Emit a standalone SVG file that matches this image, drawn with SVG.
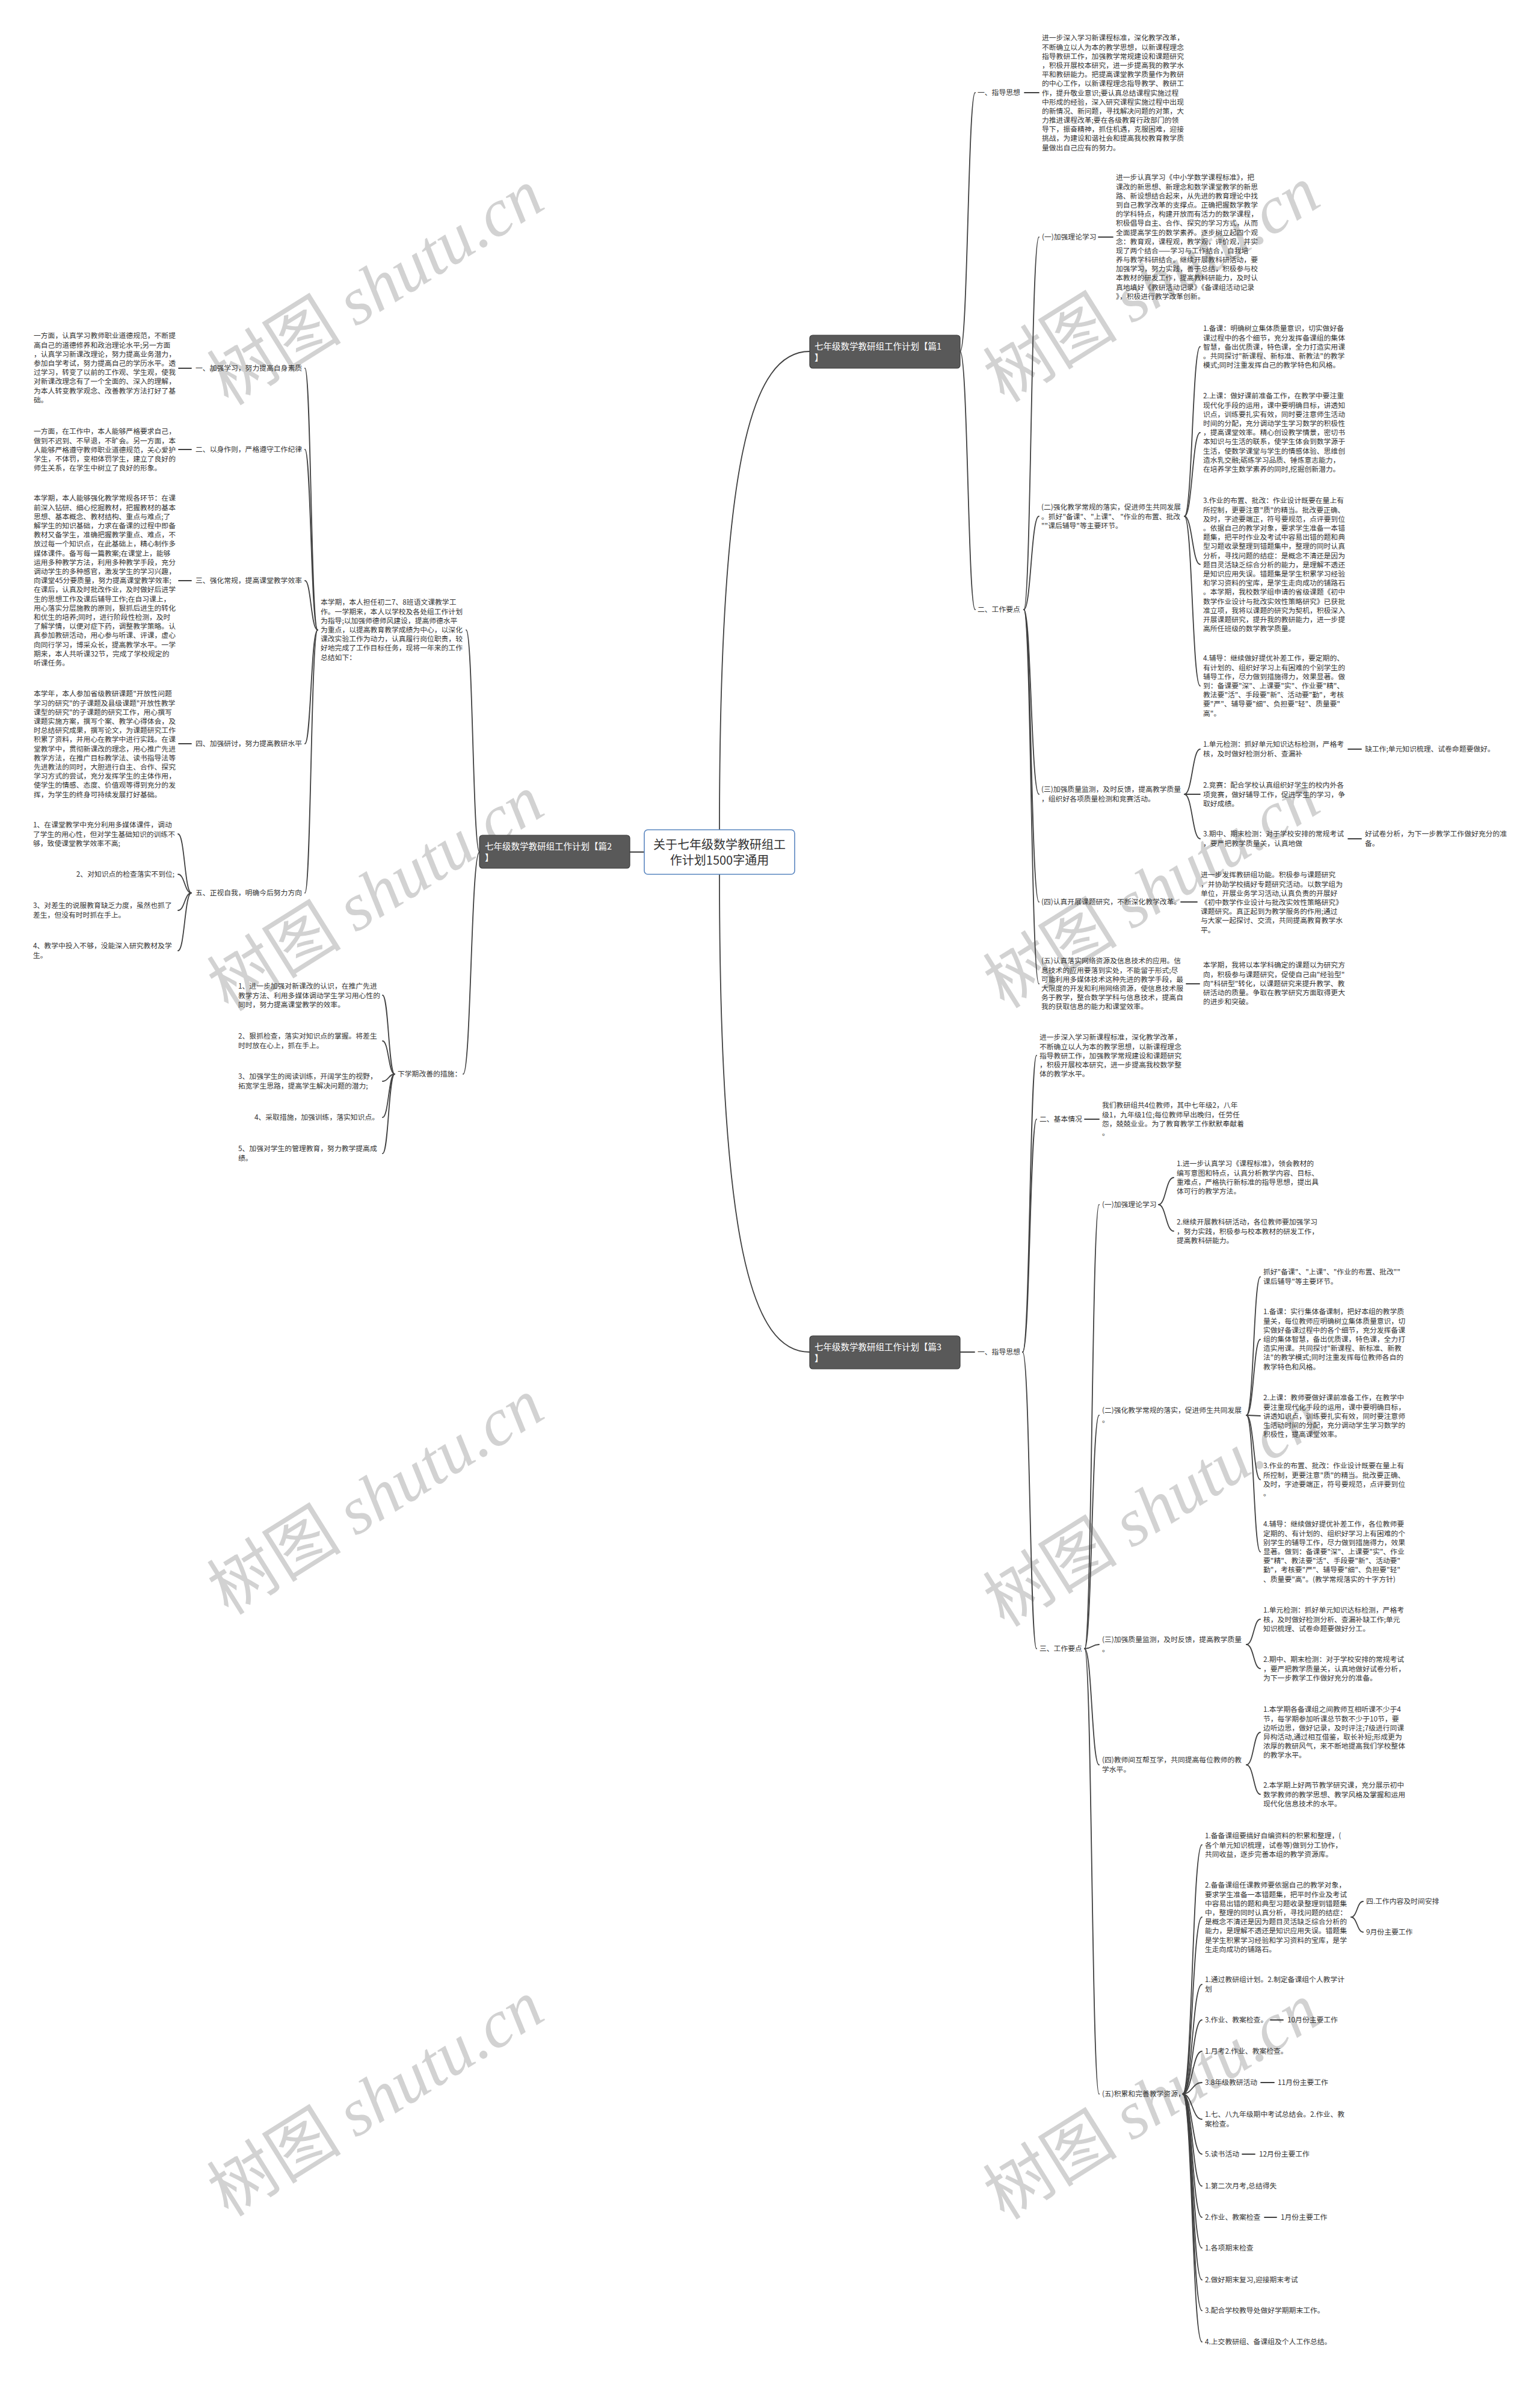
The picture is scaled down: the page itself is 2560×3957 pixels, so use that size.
<svg xmlns="http://www.w3.org/2000/svg" width="2560" height="3957" viewBox="0 0 2560 3957">
<style>
.t{font-family:"Noto Sans CJK SC","Microsoft YaHei",sans-serif;font-size:11.8px;fill:#333}
.e{text-anchor:end}
.c{fill:none;stroke:#404040;stroke-width:1.8;stroke-linecap:round}
.wm{font-family:"Noto Sans CJK SC",sans-serif;font-size:112px;fill:#d2d2d2;text-anchor:middle}
.wm tspan{font-family:"Liberation Serif",serif;font-style:italic}
.topic{fill:#595959;stroke:#3c3c3c;stroke-width:1.2}
.tt{font-family:"Noto Sans CJK SC","Microsoft YaHei",sans-serif;font-size:14.5px;fill:#fff}
</style>
<rect width="2560" height="3957" fill="#fff"/>
<g id="watermarks">
<text class="wm" transform="translate(645 510) rotate(-32)">树图 <tspan>shutu.cn</tspan></text>
<text class="wm" transform="translate(1935 505) rotate(-32)">树图 <tspan>shutu.cn</tspan></text>
<text class="wm" transform="translate(645 1517) rotate(-32)">树图 <tspan>shutu.cn</tspan></text>
<text class="wm" transform="translate(1935 1512) rotate(-32)">树图 <tspan>shutu.cn</tspan></text>
<text class="wm" transform="translate(645 2520) rotate(-32)">树图 <tspan>shutu.cn</tspan></text>
<text class="wm" transform="translate(1935 2540) rotate(-32)">树图 <tspan>shutu.cn</tspan></text>
<text class="wm" transform="translate(645 3520) rotate(-32)">树图 <tspan>shutu.cn</tspan></text>
<text class="wm" transform="translate(1935 3525) rotate(-32)">树图 <tspan>shutu.cn</tspan></text>
</g>
<g id="connectors">
<path class="c" d="M1196 1379 C1196 760 1250 584 1346 584"/>
<path class="c" d="M1196 1453 C1196 2070 1250 2247 1346 2247"/>
<path class="c" d="M1071 1416 L1047 1416"/>
<path class="c" d="M1596 584 C1609 584 1609 154 1621 154"/>
<path class="c" d="M1596 584 C1609 584 1609 1013 1621 1013"/>
<path class="c" d="M1703 154 L1727 154"/>
<path class="c" d="M1702 1013 C1714 1013 1714 394 1727 394"/>
<path class="c" d="M1702 1013 C1714 1013 1714 858 1727 858"/>
<path class="c" d="M1702 1013 C1714 1013 1714 1320 1727 1320"/>
<path class="c" d="M1702 1013 C1714 1013 1714 1499 1727 1499"/>
<path class="c" d="M1702 1013 C1714 1013 1714 1635 1727 1635"/>
<path class="c" d="M1826 394 L1850 394"/>
<path class="c" d="M1969 858 C1982 858 1982 576 1995 576"/>
<path class="c" d="M1969 858 C1982 858 1982 719 1995 719"/>
<path class="c" d="M1969 858 C1982 858 1982 938 1995 938"/>
<path class="c" d="M1969 858 C1982 858 1982 1140 1995 1140"/>
<path class="c" d="M1969 1320 C1982 1320 1982 1245 1995 1245"/>
<path class="c" d="M1969 1320 C1982 1320 1982 1320 1995 1320"/>
<path class="c" d="M1969 1320 C1982 1320 1982 1394 1995 1394"/>
<path class="c" d="M2241 1245 L2263 1245"/>
<path class="c" d="M2241 1394 L2263 1394"/>
<path class="c" d="M1963 1499 L1990 1499"/>
<path class="c" d="M1972 1635 L1994 1635"/>
<path class="c" d="M1596 2247 L1620 2247"/>
<path class="c" d="M1700 2247 C1712 2247 1712 1754 1723 1754"/>
<path class="c" d="M1700 2247 C1712 2247 1712 1860 1723 1860"/>
<path class="c" d="M1700 2247 C1712 2247 1712 2740 1723 2740"/>
<path class="c" d="M1803 1860 L1827 1860"/>
<path class="c" d="M1803 2740 C1815 2740 1815 2002 1827 2002"/>
<path class="c" d="M1803 2740 C1815 2740 1815 2352 1827 2352"/>
<path class="c" d="M1803 2740 C1815 2740 1815 2733 1827 2733"/>
<path class="c" d="M1803 2740 C1815 2740 1815 2933 1827 2933"/>
<path class="c" d="M1803 2740 C1815 2740 1815 3480 1827 3480"/>
<path class="c" d="M1926 2002 C1938 2002 1938 1957 1951 1957"/>
<path class="c" d="M1926 2002 C1938 2002 1938 2046 1951 2046"/>
<path class="c" d="M2072 2352 C2084 2352 2084 2122 2095 2122"/>
<path class="c" d="M2072 2352 C2084 2352 2084 2226 2095 2226"/>
<path class="c" d="M2072 2352 C2084 2352 2084 2353 2095 2353"/>
<path class="c" d="M2072 2352 C2084 2352 2084 2459 2095 2459"/>
<path class="c" d="M2072 2352 C2084 2352 2084 2579 2095 2579"/>
<path class="c" d="M2072 2733 C2084 2733 2084 2691 2095 2691"/>
<path class="c" d="M2072 2733 C2084 2733 2084 2773 2095 2773"/>
<path class="c" d="M2072 2933 C2084 2933 2084 2879 2095 2879"/>
<path class="c" d="M2072 2933 C2084 2933 2084 2982 2095 2982"/>
<path class="c" d="M1966 3480 C1982 3480 1982 3066 1998 3066"/>
<path class="c" d="M1966 3480 C1982 3480 1982 3186 1998 3186"/>
<path class="c" d="M1966 3480 C1982 3480 1982 3298 1998 3298"/>
<path class="c" d="M1966 3480 C1982 3480 1982 3357 1998 3357"/>
<path class="c" d="M1966 3480 C1982 3480 1982 3409 1998 3409"/>
<path class="c" d="M1966 3480 C1982 3480 1982 3461 1998 3461"/>
<path class="c" d="M1966 3480 C1982 3480 1982 3522 1998 3522"/>
<path class="c" d="M1966 3480 C1982 3480 1982 3580 1998 3580"/>
<path class="c" d="M1966 3480 C1982 3480 1982 3633 1998 3633"/>
<path class="c" d="M1966 3480 C1982 3480 1982 3685 1998 3685"/>
<path class="c" d="M1966 3480 C1982 3480 1982 3736 1998 3736"/>
<path class="c" d="M1966 3480 C1982 3480 1982 3789 1998 3789"/>
<path class="c" d="M1966 3480 C1982 3480 1982 3840 1998 3840"/>
<path class="c" d="M1966 3480 C1982 3480 1982 3892 1998 3892"/>
<path class="c" d="M2246 3186 C2256 3186 2256 3160 2266 3160"/>
<path class="c" d="M2246 3186 C2256 3186 2256 3211 2266 3211"/>
<path class="c" d="M2112 3357 L2133 3357"/>
<path class="c" d="M2096 3461 L2118 3461"/>
<path class="c" d="M2065 3580 L2086 3580"/>
<path class="c" d="M2102 3685 L2122 3685"/>
<path class="c" d="M797 1416 C786 1416 786 1047 775 1047"/>
<path class="c" d="M797 1416 C783 1416 783 1785 770 1785"/>
<path class="c" d="M528 1047 C517 1047 517 612 507 612"/>
<path class="c" d="M528 1047 C517 1047 517 747 507 747"/>
<path class="c" d="M528 1047 C517 1047 517 965 507 965"/>
<path class="c" d="M528 1047 C517 1047 517 1236 507 1236"/>
<path class="c" d="M528 1047 C517 1047 517 1484 507 1484"/>
<path class="c" d="M318 612 L297 612"/>
<path class="c" d="M318 747 L297 747"/>
<path class="c" d="M318 965 L297 965"/>
<path class="c" d="M318 1236 L297 1236"/>
<path class="c" d="M318 1484 C307 1484 307 1386 296 1386"/>
<path class="c" d="M318 1484 C307 1484 307 1453 296 1453"/>
<path class="c" d="M318 1484 C307 1484 307 1513 296 1513"/>
<path class="c" d="M318 1484 C307 1484 307 1580 296 1580"/>
<path class="c" d="M656 1785 C646 1785 646 1654 636 1654"/>
<path class="c" d="M656 1785 C646 1785 646 1730 636 1730"/>
<path class="c" d="M656 1785 C646 1785 646 1797 636 1797"/>
<path class="c" d="M656 1785 C646 1785 646 1857 636 1857"/>
<path class="c" d="M656 1785 C646 1785 646 1917 636 1917"/>
</g>
<g id="root">
<rect x="1071" y="1379" width="250" height="74" rx="6" fill="#fff" stroke="#5a86c0" stroke-width="1.6"/>
<text font-family="'Noto Sans CJK SC','Microsoft YaHei',sans-serif" font-size="20" fill="#333" text-anchor="middle"><tspan x="1196" y="1411">关于七年级数学教研组工</tspan><tspan x="1196" y="1437">作计划1500字通用</tspan></text>
</g>
<g id="p1">
<rect class="topic" x="1346" y="557" width="250" height="55" rx="5"/>
<text class="tt"><tspan x="1354" y="581">七年级数学教研组工作计划【篇1</tspan><tspan x="1354" y="600">】</tspan></text>
</g>
<g id="p2">
<rect class="topic" x="797" y="1388" width="250" height="55" rx="5"/>
<text class="tt"><tspan x="806" y="1412">七年级数学教研组工作计划【篇2</tspan><tspan x="806" y="1431">】</tspan></text>
</g>
<g id="p3">
<rect class="topic" x="1346" y="2220" width="250" height="55" rx="5"/>
<text class="tt"><tspan x="1354" y="2244">七年级数学教研组工作计划【篇3</tspan><tspan x="1354" y="2263">】</tspan></text>
</g>
<g id="p1-a1"><text class="t" x="1625" y="158.3">一、指导思想</text></g>
<g id="p1-a1t"><text class="t"><tspan x="1732" y="67.3">进一步深入学习新课程标准，深化教学改革，</tspan><tspan x="1732" dy="15.2">不断确立以人为本的教学思想，以新课程理念</tspan><tspan x="1732" dy="15.2">指导教研工作，加强教学常规建设和课题研究</tspan><tspan x="1732" dy="15.2">，积极开展校本研究，进一步提高我的教学水</tspan><tspan x="1732" dy="15.2">平和教研能力。把提高课堂教学质量作为教研</tspan><tspan x="1732" dy="15.2">的中心工作，以新课程理念指导教学、教研工</tspan><tspan x="1732" dy="15.2">作，提升敬业意识;要认真总结课程实施过程</tspan><tspan x="1732" dy="15.2">中形成的经验，深入研究课程实施过程中出现</tspan><tspan x="1732" dy="15.2">的新情况、新问题，寻找解决问题的对策，大</tspan><tspan x="1732" dy="15.2">力推进课程改革;要在各级教育行政部门的领</tspan><tspan x="1732" dy="15.2">导下，振奋精神，抓住机遇，克服困难，迎接</tspan><tspan x="1732" dy="15.2">挑战，为建设和谐社会和提高我校教育教学质</tspan><tspan x="1732" dy="15.2">量做出自己应有的努力。</tspan></text></g>
<g id="p1-a2"><text class="t" x="1625" y="1017.3">二、工作要点</text></g>
<g id="p1-b1"><text class="t" x="1732" y="398.3">(一)加强理论学习</text></g>
<g id="p1-b1t"><text class="t"><tspan x="1855" y="299.3">进一步认真学习《中小学数学课程标准》，把</tspan><tspan x="1855" dy="15.2">课改的新思想、新理念和数学课堂教学的新思</tspan><tspan x="1855" dy="15.2">路、新设想结合起来，从先进的教育理论中找</tspan><tspan x="1855" dy="15.2">到自己教学改革的支撑点。正确把握数学教学</tspan><tspan x="1855" dy="15.2">的学科特点，构建开放而有活力的数学课程，</tspan><tspan x="1855" dy="15.2">积极倡导自主、合作、探究的学习方式，从而</tspan><tspan x="1855" dy="15.2">全面提高学生的数学素养。逐步树立起四个观</tspan><tspan x="1855" dy="15.2">念：教育观，课程观，教学观，评价观，并实</tspan><tspan x="1855" dy="15.2">现了两个结合——学习与工作结合，自我培</tspan><tspan x="1855" dy="15.2">养与教学科研结合。继续开展教科研活动，要</tspan><tspan x="1855" dy="15.2">加强学习，努力实践，善于总结，积极参与校</tspan><tspan x="1855" dy="15.2">本教材的研发工作，提高教科研能力，及时认</tspan><tspan x="1855" dy="15.2">真地填好《教研活动记录》《备课组活动记录</tspan><tspan x="1855" dy="15.2">》，积极进行教学改革创新。</tspan></text></g>
<g id="p1-b2"><text class="t"><tspan x="1731" y="847.3">(二)强化教学常规的落实，促进师生共同发展</tspan><tspan x="1731" dy="15.2">。抓好"备课"、"上课"、 "作业的布置、批改</tspan><tspan x="1731" dy="15.2">""课后辅导"等主要环节。</tspan></text></g>
<g id="p1-c1"><text class="t"><tspan x="2000" y="550.3">1.备课：明确树立集体质量意识，切实做好备</tspan><tspan x="2000" dy="15.2">课过程中的各个细节，充分发挥备课组的集体</tspan><tspan x="2000" dy="15.2">智慧，备出优质课，特色课，全力打造实用课</tspan><tspan x="2000" dy="15.2">。共同探讨"新课程、新标准、新教法"的教学</tspan><tspan x="2000" dy="15.2">模式;同时注重发挥自己的教学特色和风格。</tspan></text></g>
<g id="p1-c2"><text class="t"><tspan x="2000" y="662.3">2.上课：做好课前准备工作，在教学中要注重</tspan><tspan x="2000" dy="15.2">现代化手段的运用，课中要明确目标，讲透知</tspan><tspan x="2000" dy="15.2">识点，训练要扎实有效，同时要注意师生活动</tspan><tspan x="2000" dy="15.2">时间的分配，充分调动学生学习数学的积极性</tspan><tspan x="2000" dy="15.2">，提高课堂效率。精心创设教学情景，密切书</tspan><tspan x="2000" dy="15.2">本知识与生活的联系，使学生体会到数学源于</tspan><tspan x="2000" dy="15.2">生活，使数学课堂与学生的情感体验、思维创</tspan><tspan x="2000" dy="15.2">造水乳交融;砺练学习品质、锤炼意志能力，</tspan><tspan x="2000" dy="15.2">在培养学生数学素养的同时,挖掘创新潜力。</tspan></text></g>
<g id="p1-c3"><text class="t"><tspan x="2000" y="836.3">3.作业的布置、批改：作业设计既要在量上有</tspan><tspan x="2000" dy="15.2">所控制，更要注意"质"的精当。批改要正确、</tspan><tspan x="2000" dy="15.2">及时，字迹要端正，符号要规范，点评要到位</tspan><tspan x="2000" dy="15.2">。依据自己的教学对象，要求学生准备一本错</tspan><tspan x="2000" dy="15.2">题集，把平时作业及考试中容易出错的题和典</tspan><tspan x="2000" dy="15.2">型习题收录整理到错题集中，整理的同时认真</tspan><tspan x="2000" dy="15.2">分析，寻找问题的结症：是概念不清还是因为</tspan><tspan x="2000" dy="15.2">题目灵活缺乏综合分析的能力，是理解不透还</tspan><tspan x="2000" dy="15.2">是知识应用失误。错题集是学生积累学习经验</tspan><tspan x="2000" dy="15.2">和学习资料的宝库，是学生走向成功的铺路石</tspan><tspan x="2000" dy="15.2">。本学期，我校数学组申请的省级课题《初中</tspan><tspan x="2000" dy="15.2">数学作业设计与批改实效性策略研究》已获批</tspan><tspan x="2000" dy="15.2">准立项，我将以课题的研究为契机，积极深入</tspan><tspan x="2000" dy="15.2">开展课题研究，提升我的教研能力，进一步提</tspan><tspan x="2000" dy="15.2">高所任班级的数学教学质量。</tspan></text></g>
<g id="p1-c4"><text class="t"><tspan x="2000" y="1098.3">4.辅导：继续做好提优补差工作，要定期的、</tspan><tspan x="2000" dy="15.2">有计划的、组织好学习上有困难的个别学生的</tspan><tspan x="2000" dy="15.2">辅导工作，尽力做到措施得力，效果显著。做</tspan><tspan x="2000" dy="15.2">到：备课要"深"、上课要"实"、作业要"精"、</tspan><tspan x="2000" dy="15.2">教法要"活"、手段要"新"、活动要"勤"，考核</tspan><tspan x="2000" dy="15.2">要"严"、辅导要"细"、负担要"轻"、质量要"</tspan><tspan x="2000" dy="15.2">高"。</tspan></text></g>
<g id="p1-b3"><text class="t"><tspan x="1731" y="1316.3">(三)加强质量监测，及时反馈，提高教学质量</tspan><tspan x="1731" dy="15.2">，组织好各项质量检测和竞赛活动。</tspan></text></g>
<g id="p1-d1"><text class="t"><tspan x="2000" y="1241.3">1.单元检测：抓好单元知识达标检测，严格考</tspan><tspan x="2000" dy="15.2">核，及时做好检测分析、查漏补</tspan></text></g>
<g id="p1-d1c"><text class="t" x="2269" y="1249.3">缺工作;单元知识梳理、试卷命题要做好。</text></g>
<g id="p1-d2"><text class="t"><tspan x="2000" y="1309.3">2.竞赛：配合学校认真组织好学生的校内外各</tspan><tspan x="2000" dy="15.2">项竞赛，做好辅导工作，促进学生的学习，争</tspan><tspan x="2000" dy="15.2">取好成绩。</tspan></text></g>
<g id="p1-d3"><text class="t"><tspan x="2000" y="1390.3">3.期中、期末检测：对于学校安排的常规考试</tspan><tspan x="2000" dy="15.2">，要严把教学质量关，认真地做</tspan></text></g>
<g id="p1-d3c"><text class="t"><tspan x="2269" y="1390.3">好试卷分析，为下一步教学工作做好充分的准</tspan><tspan x="2269" dy="15.2">备。</tspan></text></g>
<g id="p1-b4"><text class="t" x="1731" y="1503.3">(四)认真开展课题研究，不断深化教学改革。</text></g>
<g id="p1-b4t"><text class="t"><tspan x="1996" y="1458.3">进一步发挥教研组功能。积极参与课题研究</tspan><tspan x="1996" dy="15.2">，并协助学校搞好专题研究活动。以数学组为</tspan><tspan x="1996" dy="15.2">单位，开展业务学习活动,认真负责的开展好</tspan><tspan x="1996" dy="15.2">《初中数学作业设计与批改实效性策略研究》</tspan><tspan x="1996" dy="15.2">课题研究。真正起到为教学服务的作用;通过</tspan><tspan x="1996" dy="15.2">与大家一起探讨、交流，共同提高教育教学水</tspan><tspan x="1996" dy="15.2">平。</tspan></text></g>
<g id="p1-b5"><text class="t"><tspan x="1731" y="1601.3">(五)认真落实网络资源及信息技术的应用。信</tspan><tspan x="1731" dy="15.2">息技术的应用要落到实处，不能留于形式;尽</tspan><tspan x="1731" dy="15.2">可能利用多媒体技术这种先进的教学手段，最</tspan><tspan x="1731" dy="15.2">大限度的开发和利用网络资源，使信息技术服</tspan><tspan x="1731" dy="15.2">务于教学，整合数学学科与信息技术，提高自</tspan><tspan x="1731" dy="15.2">我的获取信息的能力和课堂效率。</tspan></text></g>
<g id="p1-b5t"><text class="t"><tspan x="2000" y="1608.3">本学期，我将以本学科确定的课题以为研究方</tspan><tspan x="2000" dy="15.2">向，积极参与课题研究，促使自己由"经验型"</tspan><tspan x="2000" dy="15.2">向"科研型"转化，以课题研究来提升教学、教</tspan><tspan x="2000" dy="15.2">研活动的质量。争取在教学研究方面取得更大</tspan><tspan x="2000" dy="15.2">的进步和突破。</tspan></text></g>
<g id="p3-e"><text class="t" x="1625" y="2251.3">一、指导思想</text></g>
<g id="p3-e1t"><text class="t"><tspan x="1728" y="1728.3">进一步深入学习新课程标准，深化教学改革，</tspan><tspan x="1728" dy="15.2">不断确立以人为本的教学思想，以新课程理念</tspan><tspan x="1728" dy="15.2">指导教研工作，加强教学常规建设和课题研究</tspan><tspan x="1728" dy="15.2">，积极开展校本研究，进一步提高我校数学整</tspan><tspan x="1728" dy="15.2">体的教学水平。</tspan></text></g>
<g id="p3-e2"><text class="t" x="1728" y="1864.3">二、基本情况</text></g>
<g id="p3-e2t"><text class="t"><tspan x="1832" y="1841.3">我们教研组共4位教师，其中七年级2，八年</tspan><tspan x="1832" dy="15.2">级1，九年级1位;每位教师早出晚归，任劳任</tspan><tspan x="1832" dy="15.2">怨，兢兢业业。为了教育教学工作默默奉献着</tspan><tspan x="1832" dy="15.2">。</tspan></text></g>
<g id="p3-e3"><text class="t" x="1728" y="2744.3">三、工作要点</text></g>
<g id="p3-f1"><text class="t" x="1832" y="2006.3">(一)加强理论学习</text></g>
<g id="p3-f1a"><text class="t"><tspan x="1956" y="1938.3">1.进一步认真学习《课程标准》，领会教材的</tspan><tspan x="1956" dy="15.2">编写意图和特点，认真分析教学内容、目标、</tspan><tspan x="1956" dy="15.2">重难点，严格执行新标准的指导思想，提出具</tspan><tspan x="1956" dy="15.2">体可行的教学方法。</tspan></text></g>
<g id="p3-f1b"><text class="t"><tspan x="1956" y="2035.3">2.继续开展教科研活动，各位教师要加强学习</tspan><tspan x="1956" dy="15.2">，努力实践，积极参与校本教材的研发工作，</tspan><tspan x="1956" dy="15.2">提高教科研能力。</tspan></text></g>
<g id="p3-f2"><text class="t"><tspan x="1832" y="2348.3">(二)强化教学常规的落实，促进师生共同发展</tspan><tspan x="1832" dy="15.2">。</tspan></text></g>
<g id="p3-f2a"><text class="t"><tspan x="2100" y="2118.3">抓好"备课"、"上课"、"作业的布置、批改""</tspan><tspan x="2100" dy="15.2">课后辅导"等主要环节。</tspan></text></g>
<g id="p3-f2b"><text class="t"><tspan x="2100" y="2184.3">1.备课：实行集体备课制，把好本组的教学质</tspan><tspan x="2100" dy="15.2">量关，每位教师应明确树立集体质量意识，切</tspan><tspan x="2100" dy="15.2">实做好备课过程中的各个细节，充分发挥备课</tspan><tspan x="2100" dy="15.2">组的集体智慧，备出优质课，特色课，全力打</tspan><tspan x="2100" dy="15.2">造实用课。共同探讨"新课程、新标准、新教</tspan><tspan x="2100" dy="15.2">法"的教学模式;同时注重发挥每位教师各自的</tspan><tspan x="2100" dy="15.2">教学特色和风格。</tspan></text></g>
<g id="p3-f2c"><text class="t"><tspan x="2100" y="2327.3">2.上课：教师要做好课前准备工作，在教学中</tspan><tspan x="2100" dy="15.2">要注重现代化手段的运用，课中要明确目标，</tspan><tspan x="2100" dy="15.2">讲透知识点，训练要扎实有效，同时要注意师</tspan><tspan x="2100" dy="15.2">生活动时间的分配，充分调动学生学习数学的</tspan><tspan x="2100" dy="15.2">积极性，提高课堂效率。</tspan></text></g>
<g id="p3-f2d"><text class="t"><tspan x="2100" y="2440.3">3.作业的布置、批改：作业设计既要在量上有</tspan><tspan x="2100" dy="15.2">所控制，更要注意"质"的精当。批改要正确、</tspan><tspan x="2100" dy="15.2">及时，字迹要端正，符号要规范，点评要到位</tspan><tspan x="2100" dy="15.2">。</tspan></text></g>
<g id="p3-f2e"><text class="t"><tspan x="2100" y="2537.3">4.辅导：继续做好提优补差工作，各位教师要</tspan><tspan x="2100" dy="15.2">定期的、有计划的、组织好学习上有困难的个</tspan><tspan x="2100" dy="15.2">别学生的辅导工作，尽力做到措施得力，效果</tspan><tspan x="2100" dy="15.2">显著。做到：备课要"深"、上课要"实"、作业</tspan><tspan x="2100" dy="15.2">要"精"、教法要"活"、手段要"新"、活动要"</tspan><tspan x="2100" dy="15.2">勤"，考核要"严"、辅导要"细"、负担要"轻"</tspan><tspan x="2100" dy="15.2">、质量要"高"。(教学常规落实的十字方针)</tspan></text></g>
<g id="p3-f3"><text class="t"><tspan x="1832" y="2729.3">(三)加强质量监测，及时反馈，提高教学质量</tspan><tspan x="1832" dy="15.2">。</tspan></text></g>
<g id="p3-f3a"><text class="t"><tspan x="2100" y="2680.3">1.单元检测：抓好单元知识达标检测，严格考</tspan><tspan x="2100" dy="15.2">核，及时做好检测分析、查漏补缺工作;单元</tspan><tspan x="2100" dy="15.2">知识梳理、试卷命题要做好分工。</tspan></text></g>
<g id="p3-f3b"><text class="t"><tspan x="2100" y="2762.3">2.期中、期末检测：对于学校安排的常规考试</tspan><tspan x="2100" dy="15.2">，要严把教学质量关，认真地做好试卷分析，</tspan><tspan x="2100" dy="15.2">为下一步教学工作做好充分的准备。</tspan></text></g>
<g id="p3-f4"><text class="t"><tspan x="1832" y="2929.3">(四)教师间互帮互学，共同提高每位教师的教</tspan><tspan x="1832" dy="15.2">学水平。</tspan></text></g>
<g id="p3-f4a"><text class="t"><tspan x="2100" y="2845.3">1.本学期各备课组之间教师互相听课不少于4</tspan><tspan x="2100" dy="15.2">节，每学期参加听课总节数不少于10节，要</tspan><tspan x="2100" dy="15.2">边听边思，做好记录，及时评注;7级进行同课</tspan><tspan x="2100" dy="15.2">异构活动,通过相互借鉴，取长补短;形成更为</tspan><tspan x="2100" dy="15.2">浓厚的教研风气，来不断地提高我们学校整体</tspan><tspan x="2100" dy="15.2">的教学水平。</tspan></text></g>
<g id="p3-f4b"><text class="t"><tspan x="2100" y="2971.3">2.本学期上好两节教学研究课，充分展示初中</tspan><tspan x="2100" dy="15.2">数学教师的教学思想、教学风格及掌握和运用</tspan><tspan x="2100" dy="15.2">现代化信息技术的水平。</tspan></text></g>
<g id="p3-f5"><text class="t" x="1832" y="3484.3">(五)积累和完善教学资源，</text></g>
<g id="p3-g1"><text class="t"><tspan x="2003" y="3055.3">1.备备课组要搞好自编资料的积累和整理，(</tspan><tspan x="2003" dy="15.2">各个单元知识梳理，试卷等)做到分工协作，</tspan><tspan x="2003" dy="15.2">共同收益，逐步完善本组的教学资源库。</tspan></text></g>
<g id="p3-g2"><text class="t"><tspan x="2003" y="3137.3">2.备备课组任课教师要依据自己的教学对象，</tspan><tspan x="2003" dy="15.2">要求学生准备一本错题集，把平时作业及考试</tspan><tspan x="2003" dy="15.2">中容易出错的题和典型习题收录整理到错题集</tspan><tspan x="2003" dy="15.2">中，整理的同时认真分析，寻找问题的结症：</tspan><tspan x="2003" dy="15.2">是概念不清还是因为题目灵活缺乏综合分析的</tspan><tspan x="2003" dy="15.2">能力，是理解不透还是知识应用失误。错题集</tspan><tspan x="2003" dy="15.2">是学生积累学习经验和学习资料的宝库，是学</tspan><tspan x="2003" dy="15.2">生走向成功的铺路石。</tspan></text></g>
<g id="p3-g2a"><text class="t" x="2271" y="3164.3">四.工作内容及时间安排</text></g>
<g id="p3-g2b"><text class="t" x="2271" y="3215.3">9月份主要工作</text></g>
<g id="p3-g3"><text class="t"><tspan x="2003" y="3294.3">1.通过教研组计划。2.制定备课组个人教学计</tspan><tspan x="2003" dy="15.2">划</tspan></text></g>
<g id="p3-g4"><text class="t" x="2003" y="3361.3">3.作业、教案检查。</text></g>
<g id="p3-g4c"><text class="t" x="2140" y="3361.3">10月份主要工作</text></g>
<g id="p3-g5"><text class="t" x="2003" y="3413.3">1.月考2.作业、教案检查。</text></g>
<g id="p3-g6"><text class="t" x="2003" y="3465.3">3.8年级教研活动</text></g>
<g id="p3-g6c"><text class="t" x="2124" y="3465.3">11月份主要工作</text></g>
<g id="p3-g7"><text class="t"><tspan x="2003" y="3518.3">1.七、八九年级期中考试总结会。2.作业、教</tspan><tspan x="2003" dy="15.2">案检查。</tspan></text></g>
<g id="p3-g8"><text class="t" x="2003" y="3584.3">5.读书活动</text></g>
<g id="p3-g8c"><text class="t" x="2093" y="3584.3">12月份主要工作</text></g>
<g id="p3-g9"><text class="t" x="2003" y="3637.3">1.第二次月考,总结得失</text></g>
<g id="p3-g10"><text class="t" x="2003" y="3689.3">2.作业、教案检查</text></g>
<g id="p3-g10c"><text class="t" x="2129" y="3689.3">1月份主要工作</text></g>
<g id="p3-g11"><text class="t" x="2003" y="3740.3">1.各项期末检查</text></g>
<g id="p3-g12"><text class="t" x="2003" y="3793.3">2.做好期末复习,迎接期末考试</text></g>
<g id="p3-g13"><text class="t" x="2003" y="3844.3">3.配合学校教导处做好学期期末工作。</text></g>
<g id="p3-g14"><text class="t" x="2003" y="3896.3">4.上交教研组、备课组及个人工作总结。</text></g>
<g id="p2-h"><text class="t"><tspan x="533" y="1005.3">本学期，本人担任初二7、8班语文课教学工</tspan><tspan x="533" dy="15.2">作。一学期来，本人以学校及各处组工作计划</tspan><tspan x="533" dy="15.2">为指导;以加强师德师风建设，提高师德水平</tspan><tspan x="533" dy="15.2">为重点，以提高教育教学成绩为中心，以深化</tspan><tspan x="533" dy="15.2">课改实验工作为动力，认真履行岗位职责，较</tspan><tspan x="533" dy="15.2">好地完成了工作目标任务，现将一年来的工作</tspan><tspan x="533" dy="15.2">总结如下：</tspan></text></g>
<g id="p2-l1"><text class="t e" x="502" y="616.3">一、加强学习，努力提高自身素质</text></g>
<g id="p2-l2"><text class="t e" x="502" y="751.3">二、以身作则，严格遵守工作纪律</text></g>
<g id="p2-l3"><text class="t e" x="502" y="969.3">三、强化常规，提高课堂教学效率</text></g>
<g id="p2-l4"><text class="t e" x="502" y="1240.3">四、加强研讨，努力提高教研水平</text></g>
<g id="p2-l5"><text class="t e" x="502" y="1488.3">五、正视自我，明确今后努力方向</text></g>
<g id="p2-l1t"><text class="t"><tspan x="56" y="562.3">一方面，认真学习教师职业道德规范，不断提</tspan><tspan x="56" dy="15.2">高自己的道德修养和政治理论水平;另一方面</tspan><tspan x="56" dy="15.2">，认真学习新课改理论，努力提高业务潜力，</tspan><tspan x="56" dy="15.2">参加自学考试，努力提高自己的学历水平。透</tspan><tspan x="56" dy="15.2">过学习，转变了以前的工作观、学生观，使我</tspan><tspan x="56" dy="15.2">对新课改理念有了一个全面的、深入的理解，</tspan><tspan x="56" dy="15.2">为本人转变教学观念、改善教学方法打好了基</tspan><tspan x="56" dy="15.2">础。</tspan></text></g>
<g id="p2-l2t"><text class="t"><tspan x="56" y="721.3">一方面，在工作中，本人能够严格要求自己，</tspan><tspan x="56" dy="15.2">做到不迟到、不早退，不旷会。另一方面，本</tspan><tspan x="56" dy="15.2">人能够严格遵守教师职业道德规范，关心爱护</tspan><tspan x="56" dy="15.2">学生，不体罚，变相体罚学生，建立了良好的</tspan><tspan x="56" dy="15.2">师生关系，在学生中树立了良好的形象。</tspan></text></g>
<g id="p2-l3t"><text class="t"><tspan x="56" y="832.3">本学期，本人能够强化教学常规各环节：在课</tspan><tspan x="56" dy="15.2">前深入钻研、细心挖掘教材，把握教材的基本</tspan><tspan x="56" dy="15.2">思想、基本概念、教材结构、重点与难点;了</tspan><tspan x="56" dy="15.2">解学生的知识基础，力求在备课的过程中即备</tspan><tspan x="56" dy="15.2">教材又备学生，准确把握教学重点、难点，不</tspan><tspan x="56" dy="15.2">放过每一个知识点，在此基础上，精心制作多</tspan><tspan x="56" dy="15.2">媒体课件。备写每一篇教案;在课堂上，能够</tspan><tspan x="56" dy="15.2">运用多种教学方法，利用多种教学手段，充分</tspan><tspan x="56" dy="15.2">调动学生的多种感官，激发学生的学习兴趣，</tspan><tspan x="56" dy="15.2">向课堂45分要质量，努力提高课堂教学效率;</tspan><tspan x="56" dy="15.2">在课后，认真及时批改作业，及时做好后进学</tspan><tspan x="56" dy="15.2">生的思想工作及课后辅导工作;在自习课上，</tspan><tspan x="56" dy="15.2">用心落实分层施教的原则，狠抓后进生的转化</tspan><tspan x="56" dy="15.2">和优生的培养;同时，进行阶段性检测，及时</tspan><tspan x="56" dy="15.2">了解学情，以便对症下药，调整教学策略。认</tspan><tspan x="56" dy="15.2">真参加教研活动，用心参与听课、评课，虚心</tspan><tspan x="56" dy="15.2">向同行学习，博采众长，提高教学水平。一学</tspan><tspan x="56" dy="15.2">期来，本人共听课32节，完成了学校规定的</tspan><tspan x="56" dy="15.2">听课任务。</tspan></text></g>
<g id="p2-l4t"><text class="t"><tspan x="56" y="1157.3">本学年，本人参加省级教研课题"开放性问题</tspan><tspan x="56" dy="15.2">学习的研究"的子课题及县级课题"开放性教学</tspan><tspan x="56" dy="15.2">课型的研究"的子课题的研究工作，用心撰写</tspan><tspan x="56" dy="15.2">课题实施方案，撰写个案、教学心得体会，及</tspan><tspan x="56" dy="15.2">时总结研究成果，撰写论文，为课题研究工作</tspan><tspan x="56" dy="15.2">积累了资料，并用心在教学中进行实践。在课</tspan><tspan x="56" dy="15.2">堂教学中，贯彻新课改的理念，用心推广先进</tspan><tspan x="56" dy="15.2">教学方法，在推广目标教学法、读书指导法等</tspan><tspan x="56" dy="15.2">先进教法的同时，大胆进行自主、合作、探究</tspan><tspan x="56" dy="15.2">学习方式的尝试，充分发挥学生的主体作用，</tspan><tspan x="56" dy="15.2">使学生的情感、态度、价值观等得到充分的发</tspan><tspan x="56" dy="15.2">挥，为学生的终身可持续发展打好基础。</tspan></text></g>
<g id="p2-l5a"><text class="t"><tspan x="55" y="1375.3">1、在课堂教学中充分利用多媒体课件，调动</tspan><tspan x="55" dy="15.2">了学生的用心性，但对学生基础知识的训练不</tspan><tspan x="55" dy="15.2">够，致使课堂教学效率不高;</tspan></text></g>
<g id="p2-l5b"><text class="t e" x="290" y="1457.3">2、对知识点的检查落实不到位;</text></g>
<g id="p2-l5c"><text class="t"><tspan x="55" y="1509.3">3、对差生的说服教育缺乏力度，虽然也抓了</tspan><tspan x="55" dy="15.2">差生，但没有时时抓在手上。</tspan></text></g>
<g id="p2-l5d"><text class="t"><tspan x="55" y="1576.3">4、教学中投入不够，没能深入研究教材及学</tspan><tspan x="55" dy="15.2">生。</tspan></text></g>
<g id="p2-i"><text class="t" x="661" y="1789.3">下学期改善的措施：</text></g>
<g id="p2-i1"><text class="t"><tspan x="396" y="1643.3">1、进一步加强对新课改的认识，在推广先进</tspan><tspan x="396" dy="15.2">教学方法、利用多媒体调动学生学习用心性的</tspan><tspan x="396" dy="15.2">同时，努力提高课堂教学的效率。</tspan></text></g>
<g id="p2-i2"><text class="t"><tspan x="396" y="1726.3">2、狠抓检查，落实对知识点的掌握。将差生</tspan><tspan x="396" dy="15.2">时时放在心上，抓在手上。</tspan></text></g>
<g id="p2-i3"><text class="t"><tspan x="396" y="1793.3">3、加强学生的阅读训练，开阔学生的视野，</tspan><tspan x="396" dy="15.2">拓宽学生思路，提高学生解决问题的潜力;</tspan></text></g>
<g id="p2-i4"><text class="t e" x="630" y="1861.3">4、采取措施，加强训练，落实知识点。</text></g>
<g id="p2-i5"><text class="t"><tspan x="396" y="1913.3">5、加强对学生的管理教育，努力教学提高成</tspan><tspan x="396" dy="15.2">绩。</tspan></text></g>
</svg>
